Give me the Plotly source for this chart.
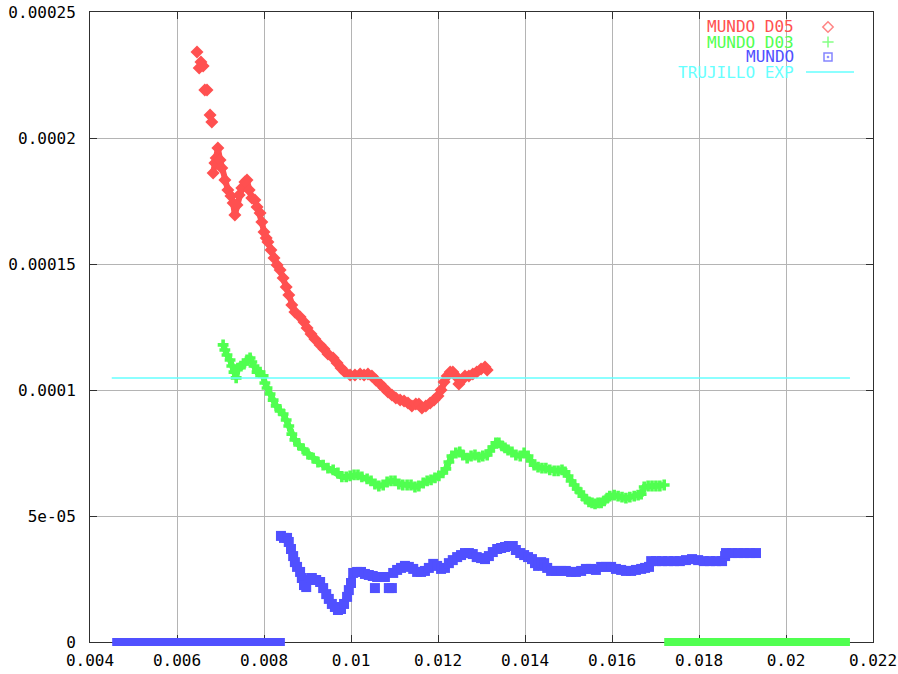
import plotly.graph_objects as go

# ---------------- data ----------------
x_ticks = [0.004, 0.006, 0.008, 0.01, 0.012, 0.014, 0.016, 0.018, 0.02, 0.022]
x_ticktext = ["0.004", "0.006", "0.008", "0.01", "0.012", "0.014", "0.016", "0.018", "0.02", "0.022"]
y_ticks = [0, 5e-05, 0.0001, 0.00015, 0.0002, 0.00025]
y_ticktext = ["0", "5e-05", "0.0001", "0.00015", "0.0002", "0.00025"]

series_names = ["MUNDO D05", "MUNDO D03", "MUNDO", "TRUJILLO EXP"]

d05_x = [0.00646, None, 0.00651, 0.00655, 0.00660, None, 0.00664, 0.00669, None, 0.00676, 0.00680, None,
         0.00683, 0.00687, 0.00690, 0.00694, 0.00699, 0.00703, 0.00710, 0.00717, 0.00724, 0.00729,
         0.00733, 0.00738, 0.00743, 0.00749, 0.00756, 0.00761, 0.00766, 0.00772, 0.00779, 0.00784,
         0.00791, 0.00795, 0.00800, 0.00805, 0.00809, 0.00816, 0.00823, 0.00830, 0.00837, 0.00844,
         0.00851, 0.00857, 0.00864, 0.00871, 0.00883, 0.00892, 0.00899, 0.00908, 0.00917, 0.00929,
         0.00938, 0.00947, 0.00959, 0.00968, 0.00977, 0.00986, 0.00998, 0.01009, 0.01021, 0.01030,
         0.01039, 0.01048, 0.01057, 0.01067, 0.01076, 0.01085, 0.01094, 0.01103, 0.01113, 0.01122,
         0.01131, 0.01140, 0.01149, 0.01156, 0.01163, 0.01172, 0.01182, 0.01191, 0.01200, 0.01207,
         0.01214, 0.01221, 0.01228, 0.01234, 0.01241, 0.01248, 0.01255, 0.01262, 0.01271, 0.01280,
         0.01289, 0.01299, 0.01308, 0.01313]
d05_y = [23.41e-5, None, 22.78e-5, 23.02e-5, 22.86e-5, None, 21.90e-5, 21.90e-5, None, 20.91e-5, 20.63e-5, None,
         18.61e-5, 19.01e-5, 19.21e-5, 19.60e-5, 19.13e-5, 18.81e-5, 18.33e-5, 17.94e-5, 17.70e-5, 17.42e-5,
         16.94e-5, 17.34e-5, 17.74e-5, 18.02e-5, 18.25e-5, 18.33e-5, 17.94e-5, 17.62e-5, 17.54e-5, 17.26e-5,
         17.02e-5, 16.67e-5, 16.27e-5, 16.03e-5, 15.87e-5, 15.56e-5, 15.24e-5, 14.96e-5, 14.76e-5, 14.44e-5,
         14.09e-5, 13.77e-5, 13.37e-5, 13.10e-5, 12.90e-5, 12.70e-5, 12.46e-5, 12.22e-5, 12.02e-5, 11.79e-5,
         11.63e-5, 11.43e-5, 11.27e-5, 11.07e-5, 10.87e-5, 10.71e-5, 10.60e-5, 10.60e-5, 10.63e-5, 10.60e-5,
         10.63e-5, 10.56e-5, 10.40e-5, 10.24e-5, 10.08e-5, 9.92e-5, 9.80e-5, 9.68e-5, 9.60e-5, 9.56e-5,
         9.48e-5, 9.37e-5, 9.44e-5, 9.44e-5, 9.29e-5, 9.37e-5, 9.48e-5, 9.60e-5, 9.76e-5, 10.00e-5,
         10.32e-5, 10.56e-5, 10.71e-5, 10.71e-5, 10.56e-5, 10.24e-5, 10.40e-5, 10.56e-5, 10.56e-5, 10.63e-5,
         10.71e-5, 10.83e-5, 10.91e-5, 10.79e-5]

d03_x = [0.00706, 0.00710, 0.00715, 0.00722, 0.00726, 0.00731, 0.00736, 0.00740, 0.00747, 0.00754,
         0.00761, 0.00768, 0.00772, 0.00777, 0.00784, 0.00791, 0.00798, 0.00802, 0.00807, 0.00814,
         0.00821, 0.00828, 0.00837, 0.00844, 0.00851, 0.00857, 0.00864, 0.00871, 0.00880, 0.00890,
         0.00901, 0.00913, 0.00924, 0.00936, 0.00947, 0.00959, 0.00970, 0.00979, 0.00989, 0.00998,
         0.01007, 0.01016, 0.01025, 0.01037, 0.01046, 0.01055, 0.01064, 0.01074, 0.01083, 0.01092,
         0.01101, 0.01110, 0.01119, 0.01129, 0.01138, 0.01147, 0.01156, 0.01166, 0.01175, 0.01184,
         0.01193, 0.01202, 0.01211, 0.01218, 0.01225, 0.01232, 0.01241, 0.01250, 0.01257, 0.01267,
         0.01276, 0.01285, 0.01294, 0.01303, 0.01313, 0.01319, 0.01326, 0.01333, 0.01340, 0.01347,
         0.01354, 0.01361, 0.01370, 0.01379, 0.01389, 0.01398, 0.01407, 0.01414, 0.01421, 0.01430,
         0.01439, 0.01448, 0.01457, 0.01467, 0.01476, 0.01485, 0.01492, 0.01499, 0.01506, 0.01513,
         0.01520, 0.01526, 0.01533, 0.01540, 0.01547, 0.01554, 0.01561, 0.01568, 0.01575, 0.01582,
         0.01589, 0.01595, 0.01605, 0.01614, 0.01623, 0.01632, 0.01641, 0.01651, 0.01660, 0.01667,
         0.01674, 0.01683, 0.01692, 0.01701, 0.01710, 0.01720]
d03_y = [11.79e-5, 11.59e-5, 11.39e-5, 11.19e-5, 10.95e-5, 10.71e-5, 10.48e-5, 10.87e-5, 10.95e-5, 11.03e-5,
         11.19e-5, 11.27e-5, 11.11e-5, 10.95e-5, 10.71e-5, 10.71e-5, 10.56e-5, 10.28e-5, 10.08e-5, 9.84e-5,
         9.60e-5, 9.37e-5, 9.17e-5, 9.05e-5, 8.81e-5, 8.57e-5, 8.25e-5, 8.02e-5, 7.82e-5, 7.66e-5,
         7.46e-5, 7.30e-5, 7.14e-5, 7.02e-5, 6.90e-5, 6.83e-5, 6.71e-5, 6.55e-5, 6.55e-5, 6.59e-5,
         6.63e-5, 6.63e-5, 6.55e-5, 6.47e-5, 6.39e-5, 6.27e-5, 6.19e-5, 6.23e-5, 6.35e-5, 6.39e-5,
         6.39e-5, 6.27e-5, 6.23e-5, 6.23e-5, 6.23e-5, 6.15e-5, 6.19e-5, 6.31e-5, 6.39e-5, 6.43e-5,
         6.51e-5, 6.59e-5, 6.71e-5, 6.87e-5, 7.14e-5, 7.38e-5, 7.50e-5, 7.54e-5, 7.42e-5, 7.30e-5,
         7.38e-5, 7.42e-5, 7.34e-5, 7.38e-5, 7.42e-5, 7.58e-5, 7.74e-5, 7.90e-5, 7.90e-5, 7.78e-5,
         7.70e-5, 7.62e-5, 7.54e-5, 7.42e-5, 7.38e-5, 7.50e-5, 7.38e-5, 7.18e-5, 7.02e-5, 6.94e-5,
         6.90e-5, 6.90e-5, 6.83e-5, 6.79e-5, 6.79e-5, 6.83e-5, 6.75e-5, 6.59e-5, 6.39e-5, 6.23e-5,
         6.07e-5, 5.95e-5, 5.79e-5, 5.67e-5, 5.56e-5, 5.52e-5, 5.48e-5, 5.52e-5, 5.52e-5, 5.60e-5,
         5.71e-5, 5.79e-5, 5.83e-5, 5.79e-5, 5.75e-5, 5.71e-5, 5.75e-5, 5.79e-5, 5.83e-5, 5.87e-5,
         6.15e-5, 6.19e-5, 6.19e-5, 6.19e-5, 6.19e-5, 6.23e-5]

mundo_x = [0.00839, 0.00846, 0.00853, 0.00857, 0.00862, 0.00867, 0.00871, 0.00876, 0.00883, 0.00887,
           0.00892, 0.00897, 0.00903, 0.00910, 0.00920, 0.00929, 0.00936, 0.00943, 0.00949, 0.00956,
           0.00963, 0.00970, 0.00977, 0.00984, 0.00991, 0.00995, 0.01000, 0.01005, 0.01014, 0.01023,
           0.01032, 0.01041, 0.01050, 0.01060, 0.01069, 0.01078, None, 0.01055, None, 0.01087, 0.01094, None,
           0.01097, 0.01106, 0.01115, 0.01124, 0.01133, 0.01143, 0.01152, 0.01161, 0.01170, 0.01179,
           0.01189, 0.01198, 0.01207, 0.01216, 0.01225, 0.01234, 0.01244, 0.01253, 0.01262, 0.01271,
           0.01280, 0.01289, 0.01299, 0.01308, 0.01317, 0.01326, 0.01336, 0.01345, 0.01354, 0.01363,
           0.01372, 0.01379, 0.01389, 0.01398, 0.01407, 0.01416, 0.01423, 0.01430, 0.01437, 0.01444,
           0.01451, 0.01460, 0.01471, 0.01483, 0.01494, 0.01506, 0.01517, 0.01529, 0.01540, 0.01552,
           0.01563, 0.01575, 0.01586, 0.01598, 0.01609, 0.01621, 0.01632, 0.01644, 0.01655, 0.01667,
           0.01676, 0.01685, 0.01690, 0.01701, 0.01715, 0.01729, 0.01743, 0.01756, 0.01770, 0.01784,
           0.01798, 0.01811, 0.01825, 0.01839, 0.01853, 0.01860, 0.01862, 0.01876, 0.01890, 0.01903,
           0.01917, 0.01931]
mundo_y = [4.21e-5, 4.13e-5, 4.13e-5, 3.97e-5, 3.69e-5, 3.41e-5, 3.17e-5, 2.98e-5, 2.78e-5, 2.54e-5,
           2.26e-5, 2.18e-5, 2.46e-5, 2.54e-5, 2.46e-5, 2.38e-5, 2.14e-5, 1.90e-5, 1.71e-5, 1.51e-5,
           1.39e-5, 1.27e-5, 1.31e-5, 1.51e-5, 1.79e-5, 2.06e-5, 2.34e-5, 2.74e-5, 2.78e-5, 2.78e-5,
           2.70e-5, 2.66e-5, 2.62e-5, 2.58e-5, 2.58e-5, 2.58e-5, None, 2.14e-5, None, 2.14e-5, 2.14e-5, None,
           2.74e-5, 2.86e-5, 2.94e-5, 3.02e-5, 2.98e-5, 2.90e-5, 2.78e-5, 2.78e-5, 2.82e-5, 2.94e-5,
           3.10e-5, 3.02e-5, 2.90e-5, 2.94e-5, 3.13e-5, 3.25e-5, 3.37e-5, 3.45e-5, 3.53e-5, 3.53e-5,
           3.49e-5, 3.37e-5, 3.33e-5, 3.29e-5, 3.41e-5, 3.57e-5, 3.69e-5, 3.73e-5, 3.77e-5, 3.81e-5,
           3.81e-5, 3.65e-5, 3.53e-5, 3.45e-5, 3.37e-5, 3.29e-5, 3.13e-5, 3.02e-5, 3.17e-5, 3.13e-5,
           2.94e-5, 2.82e-5, 2.82e-5, 2.82e-5, 2.82e-5, 2.78e-5, 2.78e-5, 2.82e-5, 2.90e-5, 2.90e-5,
           2.86e-5, 2.98e-5, 2.98e-5, 2.98e-5, 2.90e-5, 2.86e-5, 2.82e-5, 2.82e-5, 2.86e-5, 2.90e-5,
           2.94e-5, 2.98e-5, 3.21e-5, 3.21e-5, 3.21e-5, 3.21e-5, 3.21e-5, 3.21e-5, 3.25e-5, 3.29e-5,
           3.25e-5, 3.21e-5, 3.21e-5, 3.21e-5, 3.21e-5, 3.41e-5, 3.53e-5, 3.53e-5, 3.53e-5, 3.53e-5,
           3.53e-5, 3.53e-5]

# zero-valued runs of points (drawn on the x axis)
mundo_zero_x = [0.00451, 0.00848]
mundo_zero_y = [0.0, 0.0]
d03_zero_x = [0.01720, 0.02147]
d03_zero_y = [0.0, 0.0]

trujillo_x = [0.00450, 0.02147]
trujillo_y = [10.48e-5, 10.48e-5]

# ---------------- style ----------------
RED = "#ff5050"
GREEN = "#50ff50"
BLUE = "#5050ff"
CYAN = "#66ffff"
FONT = "DejaVu Sans Mono"

# body margin is removed in the page (post_script), so the figure sits at the window origin
OFF = 0
W, H = 898, 674
plot_left, plot_right, plot_top, plot_bottom = 90, 873, 12, 642
zero_pad = 8  # room below the frame for the zero-valued runs
ML = plot_left - OFF
MR = (OFF + W) - plot_right
MT = plot_top - OFF
MB = (OFF + H) - (plot_bottom + zero_pad)
PW = W - ML - MR
PH = H - MT - MB
y_range = [0, 0.00025]
y_main_px = plot_bottom - plot_top
y2_range = [-zero_pad / y_main_px * (y_range[1] - y_range[0]), y_range[1]]
x_range = [0.004, 0.022]

fig = go.Figure()

fig.add_trace(go.Scatter(x=d05_x, y=d05_y, mode="lines+markers", name=series_names[0],
                         line=dict(color=RED, width=6), connectgaps=False,
                         marker=dict(symbol="diamond", size=10, color=RED, line=dict(width=0)),
                         showlegend=False))
fig.add_trace(go.Scatter(x=d03_x, y=d03_y, mode="lines+markers", name=series_names[1],
                         line=dict(color=GREEN, width=6),
                         marker=dict(symbol="cross", size=9, color=GREEN, line=dict(width=0)),
                         showlegend=False))
fig.add_trace(go.Scatter(x=mundo_x, y=mundo_y, mode="lines+markers", name=series_names[2],
                         line=dict(color=BLUE, width=7), connectgaps=False,
                         marker=dict(symbol="square", size=10, color=BLUE, line=dict(width=0)),
                         showlegend=False))
fig.add_trace(go.Scatter(x=trujillo_x, y=trujillo_y, mode="lines", name=series_names[3],
                         line=dict(color=CYAN, width=1.5), showlegend=False))

# zero runs on an overlay subplot that extends slightly below the frame
fig.add_trace(go.Scatter(x=mundo_zero_x, y=mundo_zero_y, mode="lines", xaxis="x2", yaxis="y2",
                         line=dict(color=BLUE, width=8), showlegend=False, hoverinfo="skip"))
fig.add_trace(go.Scatter(x=d03_zero_x, y=d03_zero_y, mode="lines", xaxis="x2", yaxis="y2",
                         line=dict(color=GREEN, width=8), showlegend=False, hoverinfo="skip"))

# legend (gnuplot style: text right-aligned, sample to the right)
def fx(px):
    return (px - OFF - ML) / PW

def fy(py):
    return (OFF + H - MB - py) / PH

leg_rows_y = [27, 42, 57, 72]
leg_colors = [RED, GREEN, BLUE, CYAN]
for name, yy, col in zip(series_names, leg_rows_y, leg_colors):
    fig.add_annotation(x=fx(795), y=fy(yy), xref="paper", yref="paper", text=name,
                       showarrow=False, xanchor="right", yanchor="middle", borderpad=0,
                       font=dict(family=FONT, size=16, color=col))

fig.add_trace(go.Scatter(x=[fx(828)] * 3, y=[fy(27), fy(42), fy(57)], mode="markers",
                         xaxis="x3", yaxis="y3", showlegend=False, hoverinfo="skip",
                         marker=dict(symbol=["diamond-open", "cross-thin-open", "square-open-dot"],
                                     size=[8, 8, 8], color=[RED, GREEN, BLUE],
                                     line=dict(width=1.5, color=[RED, GREEN, BLUE]))))
fig.add_shape(type="line", xref="paper", yref="paper", x0=fx(806), x1=fx(854), y0=fy(72), y1=fy(72),
              line=dict(color=CYAN, width=1.5))

axis_common = dict(showgrid=True, gridcolor="#b4b4b4", gridwidth=1, zeroline=False,
                   showline=True, linecolor="#303030", linewidth=1, mirror="ticks",
                   ticks="inside", ticklen=7, tickcolor="#303030", ticklabeloverflow="allow",
                   tickfont=dict(family=FONT, size=16, color="#000000"))

fig.update_layout(
    width=W, height=H,
    margin=dict(l=ML, r=MR, t=MT, b=MB, autoexpand=False),
    paper_bgcolor="white", plot_bgcolor="rgba(0,0,0,0)",
    showlegend=False,
    xaxis=dict(range=x_range, domain=[0, 1], anchor="y", tickvals=x_ticks, ticktext=x_ticktext,
               ticklabelstandoff=4, automargin=False, **axis_common),
    yaxis=dict(range=y_range, domain=[zero_pad / PH, 1], anchor="x", tickvals=y_ticks, ticktext=y_ticktext,
               ticklabelstandoff=10, automargin=False, **axis_common),
    xaxis2=dict(range=x_range, domain=[0, 1], anchor="y2", visible=False),
    yaxis2=dict(range=y2_range, domain=[0, 1], anchor="x2", visible=False),
    xaxis3=dict(range=[0, 1], domain=[0, 1], anchor="y3", visible=False),
    yaxis3=dict(range=[0, 1], domain=[0, 1], anchor="x3", visible=False),
)

fig.write_html("out.html",
               config={"displayModeBar": False},
               post_script="document.body.style.margin='0px';document.body.style.overflow='hidden';")
